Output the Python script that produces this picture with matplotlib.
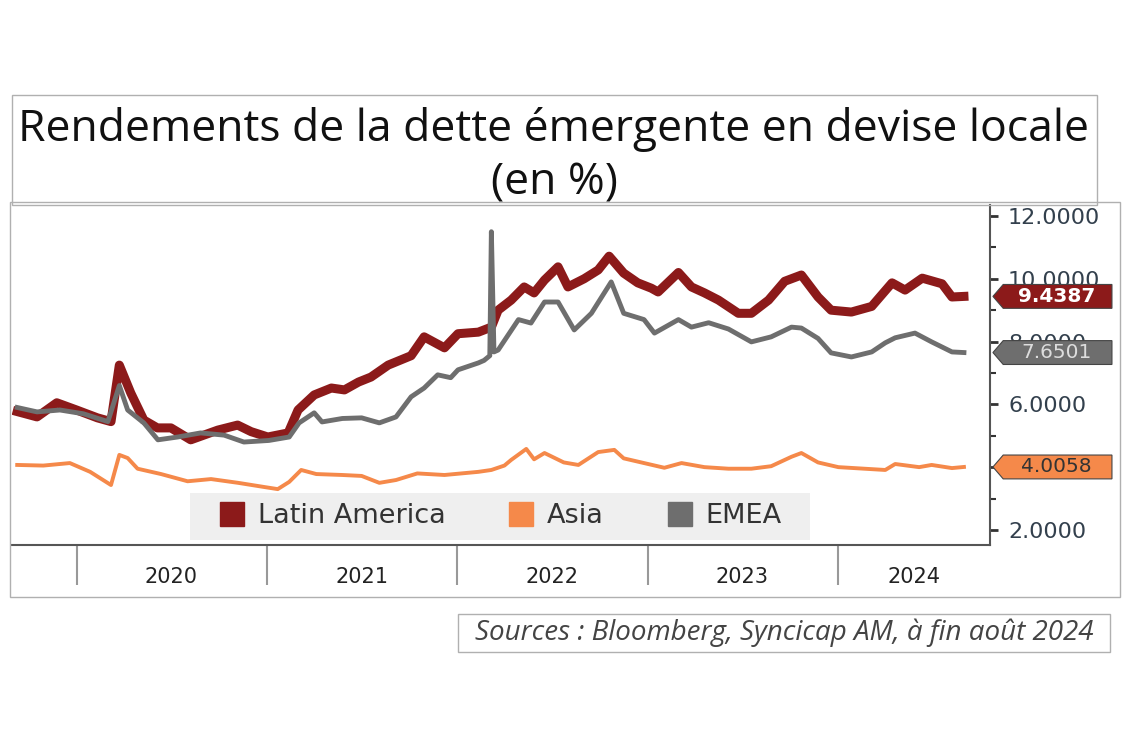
import matplotlib
matplotlib.use("Agg")
import matplotlib.pyplot as plt
import matplotlib.transforms as mtransforms
from matplotlib.patches import Rectangle, Polygon
from matplotlib.lines import Line2D
import pandas as pd

# Data

latam_dates = ["2019-09-09", "2019-10-17", "2019-11-24", "2020-01-01", "2020-02-10", "2020-03-07",
               "2020-03-23", "2020-04-14", "2020-05-09", "2020-06-04", "2020-06-30", "2020-08-07",
               "2020-09-28", "2020-11-05", "2020-12-01", "2021-01-02", "2021-02-10", "2021-03-01",
               "2021-04-01", "2021-05-04", "2021-05-29", "2021-06-25", "2021-07-19", "2021-08-21",
               "2021-10-04", "2021-10-29", "2021-12-07", "2022-01-02", "2022-02-10", "2022-03-07",
               "2022-03-20", "2022-04-14", "2022-05-09", "2022-05-28", "2022-06-17", "2022-07-13",
               "2022-08-01", "2022-09-01", "2022-09-28", "2022-10-19", "2022-11-16", "2022-12-13",
               "2023-01-08", "2023-01-21", "2023-03-01", "2023-03-26", "2023-04-20", "2023-05-17",
               "2023-06-24", "2023-07-19", "2023-08-21", "2023-09-21", "2023-10-23", "2023-11-24",
               "2023-12-19", "2024-01-27", "2024-03-06", "2024-04-14", "2024-05-09", "2024-06-11",
               "2024-07-19", "2024-08-07", "2024-08-30"]
latam_values = [5.77, 5.60, 6.05, 5.82, 5.57, 5.45,
                7.25, 6.36, 5.50, 5.25, 5.25, 4.87,
                5.18, 5.34, 5.13, 4.96, 5.09, 5.82,
                6.30, 6.52, 6.46, 6.71, 6.87, 7.25,
                7.55, 8.15, 7.80, 8.25, 8.30, 8.46,
                9.00, 9.32, 9.74, 9.55, 9.96, 10.38,
                9.74, 10.00, 10.28, 10.72, 10.18, 9.87,
                9.70, 9.58, 10.20, 9.74, 9.55, 9.32,
                8.90, 8.90, 9.32, 9.92, 10.12, 9.42,
                9.00, 8.94, 9.12, 9.87, 9.64, 10.02,
                9.84, 9.42, 9.4387]

emea_dates = ["2019-09-09", "2019-10-17", "2019-11-30", "2020-01-14", "2020-03-01", "2020-03-23",
              "2020-04-08", "2020-05-09", "2020-06-05", "2020-07-13", "2020-08-26", "2020-10-10",
              "2020-11-17", "2021-01-04", "2021-02-12", "2021-03-03", "2021-04-01", "2021-04-16",
              "2021-05-25", "2021-07-01", "2021-08-04", "2021-09-05", "2021-10-04", "2021-10-29",
              "2021-11-24", "2021-12-19", "2022-01-02", "2022-02-10", "2022-02-21", "2022-03-04",
              "2022-03-07", "2022-03-12", "2022-03-20", "2022-04-28", "2022-05-22", "2022-06-17",
              "2022-07-13", "2022-08-13", "2022-09-15", "2022-10-23", "2022-11-16", "2022-12-25",
              "2023-01-14", "2023-03-01", "2023-03-26", "2023-04-28", "2023-06-05", "2023-07-19",
              "2023-08-26", "2023-10-04", "2023-10-23", "2023-11-24", "2023-12-19", "2024-01-27",
              "2024-03-06", "2024-04-01", "2024-04-20", "2024-05-28", "2024-06-29", "2024-08-07",
              "2024-08-30"]
emea_values = [5.90, 5.76, 5.82, 5.70, 5.45, 6.60,
               5.82, 5.41, 4.87, 4.96, 5.09, 5.02,
               4.80, 4.85, 4.96, 5.41, 5.73, 5.44,
               5.55, 5.57, 5.41, 5.60, 6.24, 6.52,
               6.94, 6.85, 7.10, 7.32, 7.40, 7.55,
               11.50, 7.67, 7.73, 8.70, 8.59, 9.26,
               9.26, 8.37, 8.90, 9.90, 8.90, 8.70,
               8.27, 8.70, 8.46, 8.60, 8.40, 7.99,
               8.15, 8.46, 8.43, 8.10, 7.64, 7.51,
               7.67, 7.96, 8.12, 8.27, 7.99, 7.67,
               7.6501]

asia_dates = ["2019-09-09", "2019-10-29", "2019-12-19", "2020-01-27", "2020-03-07", "2020-03-23",
              "2020-04-08", "2020-04-27", "2020-06-11", "2020-08-01", "2020-09-15", "2020-11-06",
              "2020-12-25", "2021-01-21", "2021-02-12", "2021-03-07", "2021-04-05", "2021-05-25",
              "2021-07-01", "2021-08-04", "2021-09-05", "2021-10-16", "2021-12-07", "2022-02-10",
              "2022-03-07", "2022-04-01", "2022-04-14", "2022-05-13", "2022-05-28", "2022-06-17",
              "2022-07-24", "2022-08-21", "2022-09-28", "2022-10-29", "2022-11-16", "2022-12-25",
              "2023-02-02", "2023-03-07", "2023-04-20", "2023-06-05", "2023-07-19", "2023-08-26",
              "2023-10-04", "2023-10-23", "2023-11-24", "2024-01-02", "2024-02-21", "2024-04-01",
              "2024-04-20", "2024-06-05", "2024-06-29", "2024-08-07", "2024-08-30"]
asia_values = [4.07, 4.05, 4.13, 3.85, 3.43, 4.39,
               4.29, 3.95, 3.78, 3.55, 3.62, 3.50,
               3.37, 3.30, 3.53, 3.91, 3.78, 3.75,
               3.72, 3.50, 3.59, 3.80, 3.75, 3.85,
               3.91, 4.05, 4.23, 4.58, 4.25, 4.45,
               4.15, 4.07, 4.48, 4.55, 4.28, 4.13,
               3.98, 4.13, 4.00, 3.95, 3.95, 4.03,
               4.33, 4.45, 4.15, 4.00, 3.95, 3.91,
               4.10, 4.00, 4.07, 3.97, 4.0058]

series_names = ["Latin America", "Asia", "EMEA"]
years = ["2020", "2021", "2022", "2023", "2024"]

red = "#8c1a1a"
orange = "#f5894a"
gray = "#6e6e6e"

W, H = 1134, 756
fig = plt.figure(figsize=(W / 100, H / 100), dpi=100)


def fbox(x0, y0, x1, y1):
    # pixel box -> figure fraction rectangle
    return Rectangle((x0 / W, 1 - y1 / H), (x1 - x0) / W, (y1 - y0) / H,
                     transform=fig.transFigure, fill=False, edgecolor="#b0b0b0", linewidth=1)


fig.add_artist(fbox(12, 95, 1097, 205))
fig.add_artist(fbox(10, 202, 1120, 597))
fig.add_artist(fbox(458, 614, 1110, 652))

fig.text(554 / W, 1 - 130 / H, "Rendements de la dette émergente en devise locale",
         ha="center", va="center", fontsize=32, family="Open Sans", color="#111111")
fig.text(554 / W, 1 - 183 / H, "(en %)",
         ha="center", va="center", fontsize=32, family="Open Sans", color="#111111")
fig.text(784 / W, 1 - 633 / H, "Sources : Bloomberg, Syncicap AM, à fin août 2024",
         ha="center", va="center", fontsize=20, family="Open Sans", style="italic",
         color="#444444")

ax = fig.add_axes([12 / W, 1 - 545 / H, 978 / W, 340 / H])

ax.plot(pd.to_datetime(asia_dates), asia_values, color=orange, linewidth=2.8, zorder=3)
ax.plot(pd.to_datetime(latam_dates), latam_values, color=red, linewidth=6.5, zorder=4)
ax.plot(pd.to_datetime(emea_dates), emea_values, color=gray, linewidth=3.5, zorder=5)

x_left = pd.Timestamp("2019-08-30")
x_right = pd.Timestamp("2024-10-19")
ax.set_xlim(x_left, x_right)
ax.set_ylim(1.52, 12.35)

for s in ["top", "left"]:
    ax.spines[s].set_visible(False)
for s in ["right", "bottom"]:
    ax.spines[s].set_color("#555555")
    ax.spines[s].set_linewidth(1.5)

# right value axis
ax.yaxis.tick_right()
ax.set_yticks([2, 4, 6, 8, 10, 12])
ax.set_yticks([3, 5, 7, 9, 11], minor=True)
ax.yaxis.set_major_formatter(matplotlib.ticker.FormatStrFormatter("%.4f"))
ax.tick_params(axis="y", which="major", length=6, width=2, color="#333333",
               labelsize=16, labelcolor="#33404d", pad=7)
ax.tick_params(axis="y", which="minor", length=4, width=1.5, color="#333333")

# year separators and labels
year_starts = [pd.Timestamp(y + "-01-01") for y in years]
mids = [pd.Timestamp(y + "-07-01") for y in years[:-1]]
mids.append(year_starts[-1] + (x_right - year_starts[-1]) / 2)
ax.set_xticks(year_starts, labels=[""] * len(years))
ax.set_xticks(mids, labels=years, minor=True)
ax.tick_params(axis="x", which="major", length=29, width=1.5, color="#999999")
ax.tick_params(axis="x", which="minor", length=0, labelsize=15, labelcolor="#222222", pad=16)

# value tags on the right axis
tr = mtransforms.blended_transform_factory(ax.transAxes, ax.transData)
tags = [(latam_values[-1], red, "white", "bold"),
        (emea_values[-1], gray, "#dddddd", "normal"),
        (asia_values[-1], orange, "#333333", "normal")]
for val, fc, tc, fw in tags:
    hh = 0.38
    poly = Polygon([(1.003, val), (1.0135, val + hh), (1.1247, val + hh),
                    (1.1247, val - hh), (1.0135, val - hh)],
                   closed=True, transform=tr, facecolor=fc, edgecolor="#444444",
                   linewidth=0.8, clip_on=False, zorder=6)
    ax.add_patch(poly)
    ax.text(1.068, val, f"{val:.4f}", transform=tr, ha="center", va="center",
            fontsize=14.5, color=tc, fontweight=fw, clip_on=False, zorder=7)

# legend on a light grey panel
ax.add_patch(Rectangle((0.182, 0.015), 0.634, 0.138, transform=ax.transAxes,
                       facecolor="#efefef", edgecolor="none", zorder=7))
handles = [Line2D([], [], marker="s", linestyle="none", markersize=17, color=c)
           for c in [red, orange, gray]]
leg = ax.legend(handles, series_names, loc="center", bbox_to_anchor=(0.499, 0.084),
                ncol=3, fontsize=19.5, frameon=False, handletextpad=0.45,
                columnspacing=2.3, handlelength=1.0, borderpad=0.2)
for t in leg.get_texts():
    t.set_color("#333333")
leg.set_zorder(8)

fig.savefig("out.png", dpi=100)
